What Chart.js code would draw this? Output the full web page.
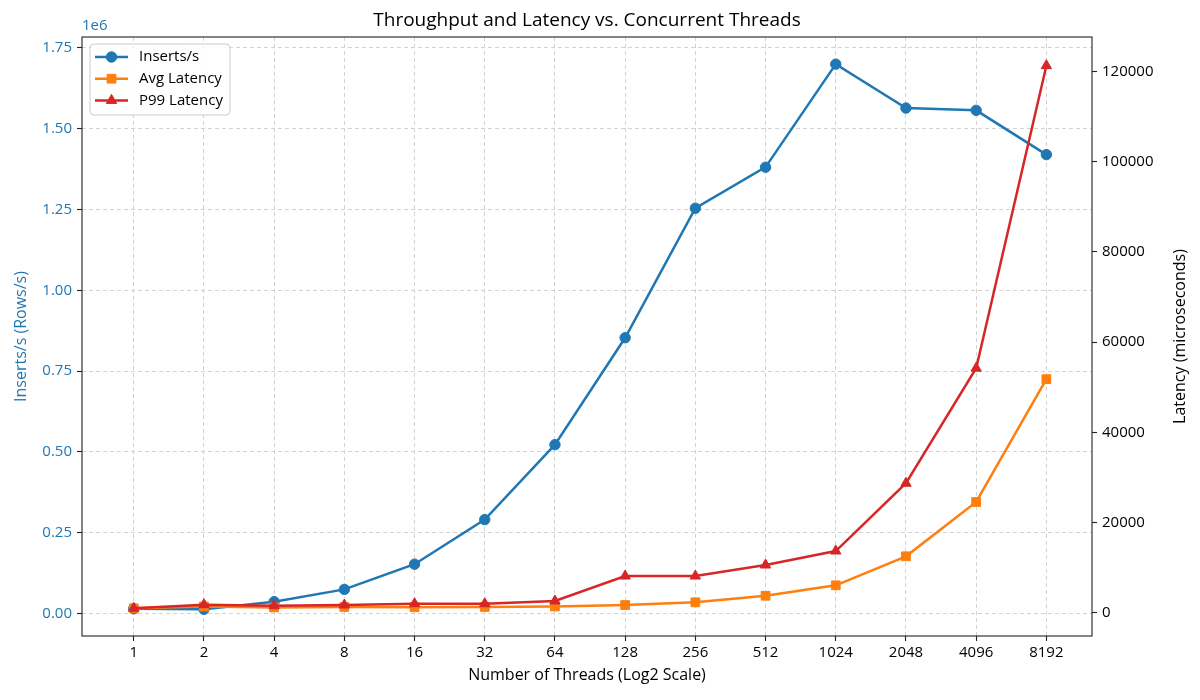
<!DOCTYPE html>
<html>
<head>
<meta charset="utf-8">
<script src="https://cdn.jsdelivr.net/npm/chart.js@4.4.1/dist/chart.umd.min.js"></script>
<style>
  html, body { margin: 0; padding: 0; background: #ffffff; }
  #wrap { width: 1200px; height: 700px; }
</style>
</head>
<body>
<div id="wrap"><canvas id="c" width="1200" height="700"></canvas></div>
<script>
// ---- Data ----
const threads = [1, 2, 4, 8, 16, 32, 64, 128, 256, 512, 1024, 2048, 4096, 8192];
const xTickLabels = ['1', '2', '4', '8', '16', '32', '64', '128', '256', '512', '1024', '2048', '4096', '8192'];
const insertsPerSec = [14000, 12500, 36000, 74000, 152000, 290000, 522000, 853000, 1254000, 1381000, 1700000, 1564000, 1557000, 1420000];
const avgLatency = [1000, 1400, 1200, 1300, 1250, 1300, 1400, 1730, 2330, 3790, 6100, 12530, 24570, 51790];
const p99Latency = [1000, 1800, 1575, 1730, 2020, 2020, 2620, 8160, 8160, 10600, 13700, 28720, 54230, 121280];
const leftTicks = [0, 250000, 500000, 750000, 1000000, 1250000, 1500000, 1750000];
const rightTicks = [0, 20000, 40000, 60000, 80000, 100000, 120000];
const seriesNames = ['Inserts/s', 'Avg Latency', 'P99 Latency'];
const chartTitle = 'Throughput and Latency vs. Concurrent Threads';
const xTitle = 'Number of Threads (Log2 Scale)';
const leftTitle = 'Inserts/s (Rows/s)';
const rightTitle = 'Latency (microseconds)';

const FONT = '"Open Sans", Roboto, "DejaVu Sans", sans-serif';
const BLUE = '#1f77b4', ORANGE = '#ff7f0e', RED = '#d62728';
const GRID = '#d3d3d3';

function pts(vals) { return threads.map((t, i) => ({ x: t, y: vals[i] })); }

const framePlugin = {
  id: 'frameAndExtras',
  afterDraw(chart) {
    const ctx = chart.ctx, a = chart.chartArea;
    ctx.save();
    // spines
    ctx.strokeStyle = '#222';
    ctx.lineWidth = 1.1;
    ctx.strokeRect(a.left, a.top, a.right - a.left, a.bottom - a.top);

    // title centred over the axes
    ctx.fillStyle = '#000';
    ctx.font = '19px ' + FONT;
    ctx.textAlign = 'center';
    ctx.textBaseline = 'middle';
    ctx.fillText(chartTitle, (a.left + a.right) / 2, 21);

    // right axis title (reads bottom to top)
    ctx.save();
    ctx.translate(1180, (a.top + a.bottom) / 2);
    ctx.rotate(-Math.PI / 2);
    ctx.font = '16px ' + FONT;
    ctx.fillStyle = '#000';
    ctx.textAlign = 'center';
    ctx.textBaseline = 'middle';
    ctx.fillText(rightTitle, 0, 0);
    ctx.restore();

    // offset text for left axis
    ctx.fillStyle = BLUE;
    ctx.font = '15px ' + FONT;
    ctx.textAlign = 'left';
    ctx.textBaseline = 'middle';
    ctx.fillText('1e6', a.left, 26);

    // legend (matplotlib style)
    const x0 = a.left + 8, y0 = a.top + 7, w = 140, h = 71, r = 4;
    ctx.beginPath();
    ctx.moveTo(x0 + r, y0);
    ctx.lineTo(x0 + w - r, y0);
    ctx.quadraticCurveTo(x0 + w, y0, x0 + w, y0 + r);
    ctx.lineTo(x0 + w, y0 + h - r);
    ctx.quadraticCurveTo(x0 + w, y0 + h, x0 + w - r, y0 + h);
    ctx.lineTo(x0 + r, y0 + h);
    ctx.quadraticCurveTo(x0, y0 + h, x0, y0 + h - r);
    ctx.lineTo(x0, y0 + r);
    ctx.quadraticCurveTo(x0, y0, x0 + r, y0);
    ctx.closePath();
    ctx.fillStyle = 'rgba(255,255,255,0.85)';
    ctx.fill();
    ctx.strokeStyle = '#cccccc';
    ctx.lineWidth = 1;
    ctx.stroke();

    chart.data.datasets.forEach((ds, i) => {
      const cy = y0 + 13 + i * 21.7;
      ctx.strokeStyle = ds.borderColor;
      ctx.lineWidth = 2.5;
      ctx.beginPath();
      ctx.moveTo(x0 + 5, cy);
      ctx.lineTo(x0 + 38, cy);
      ctx.stroke();
      ctx.fillStyle = ds.borderColor;
      ctx.strokeStyle = ds.borderColor;
      ctx.lineWidth = 1;
      Chart.helpers.drawPoint(ctx, {
        pointStyle: ds.pointStyle, radius: ds.pointRadius, rotation: 0, borderWidth: 1
      }, x0 + 21.5, cy);
      ctx.fillStyle = '#000';
      ctx.font = '15px ' + FONT;
      ctx.textAlign = 'left';
      ctx.textBaseline = 'middle';
      ctx.fillText(ds.label, x0 + 49, cy);
    });
    ctx.restore();
  }
};

const chart = new Chart(document.getElementById('c'), {
  type: 'line',
  data: {
    datasets: [
      {
        label: seriesNames[0], data: pts(insertsPerSec), yAxisID: 'y',
        borderColor: BLUE, backgroundColor: BLUE, pointBackgroundColor: BLUE, pointBorderColor: BLUE,
        borderWidth: 2.5, pointStyle: 'circle', pointRadius: 5.2, pointBorderWidth: 1, order: 3, tension: 0
      },
      {
        label: seriesNames[1], data: pts(avgLatency), yAxisID: 'y1',
        borderColor: ORANGE, backgroundColor: ORANGE, pointBackgroundColor: ORANGE, pointBorderColor: ORANGE,
        borderWidth: 2.5, pointStyle: 'rect', pointRadius: 6.2, pointBorderWidth: 1, order: 2, tension: 0
      },
      {
        label: seriesNames[2], data: pts(p99Latency), yAxisID: 'y1',
        borderColor: RED, backgroundColor: RED, pointBackgroundColor: RED, pointBorderColor: RED,
        borderWidth: 2.5, pointStyle: 'triangle', pointRadius: 6, pointBorderWidth: 1, order: 1, tension: 0
      }
    ]
  },
  options: {
    responsive: false,
    animation: false,
    devicePixelRatio: 1,
    layout: { padding: { top: 37, left: 0, right: 0, bottom: 0 } },
    plugins: {
      legend: { display: false },
      tooltip: { enabled: false },
      title: { display: false }
    },
    scales: {
      x: {
        type: 'logarithmic',
        min: Math.pow(2, -0.65),
        max: Math.pow(2, 13.65),
        afterBuildTicks: (s) => { s.ticks = threads.map(v => ({ value: v })); },
        afterFit: (s) => { s.height = 64; },
        ticks: {
          autoSkip: false, maxRotation: 0, minRotation: 0, padding: 3,
          color: '#000', font: { family: FONT, size: 15 },
          callback: (v) => xTickLabels[threads.indexOf(v)]
        },
        grid: {
          display: true, drawOnChartArea: true, drawTicks: true,
          color: GRID, lineWidth: 1, tickLength: 5, tickColor: '#222', tickWidth: 1.1, tickBorderDash: []
        },
        border: { display: false, dash: [4, 3] },
        title: {
          display: true, text: xTitle, color: '#000',
          font: { family: FONT, size: 16 }, padding: { top: 0, bottom: 15 }
        }
      },
      y: {
        type: 'linear', position: 'left',
        min: -70300, max: 1784000,
        afterBuildTicks: (s) => { s.ticks = leftTicks.map(v => ({ value: v })); },
        afterFit: (s) => { s.width = 82; },
        ticks: {
          padding: 5, color: BLUE, font: { family: FONT, size: 15 },
          callback: (v) => (v / 1e6).toFixed(2)
        },
        grid: {
          display: true, drawOnChartArea: true, drawTicks: true,
          color: GRID, lineWidth: 1, tickLength: 5, tickColor: '#222', tickWidth: 1.1, tickBorderDash: []
        },
        border: { display: false, dash: [4, 3] },
        title: {
          display: true, text: leftTitle, color: BLUE,
          font: { family: FONT, size: 16 }, padding: { top: 12, bottom: 0 }
        }
      },
      y1: {
        type: 'linear', position: 'right',
        min: -5135, max: 127635,
        afterBuildTicks: (s) => { s.ticks = rightTicks.map(v => ({ value: v })); },
        afterFit: (s) => { s.width = 108; },
        ticks: {
          padding: 5, color: '#000', font: { family: FONT, size: 15 },
          callback: (v) => String(v)
        },
        grid: {
          display: true, drawOnChartArea: false, drawTicks: true,
          color: GRID, tickLength: 5, tickColor: '#222', tickWidth: 1.1, tickBorderDash: []
        },
        border: { display: false },
        title: { display: false }
      }
    }
  },
  plugins: [framePlugin]
});
</script>
</body>
</html>
